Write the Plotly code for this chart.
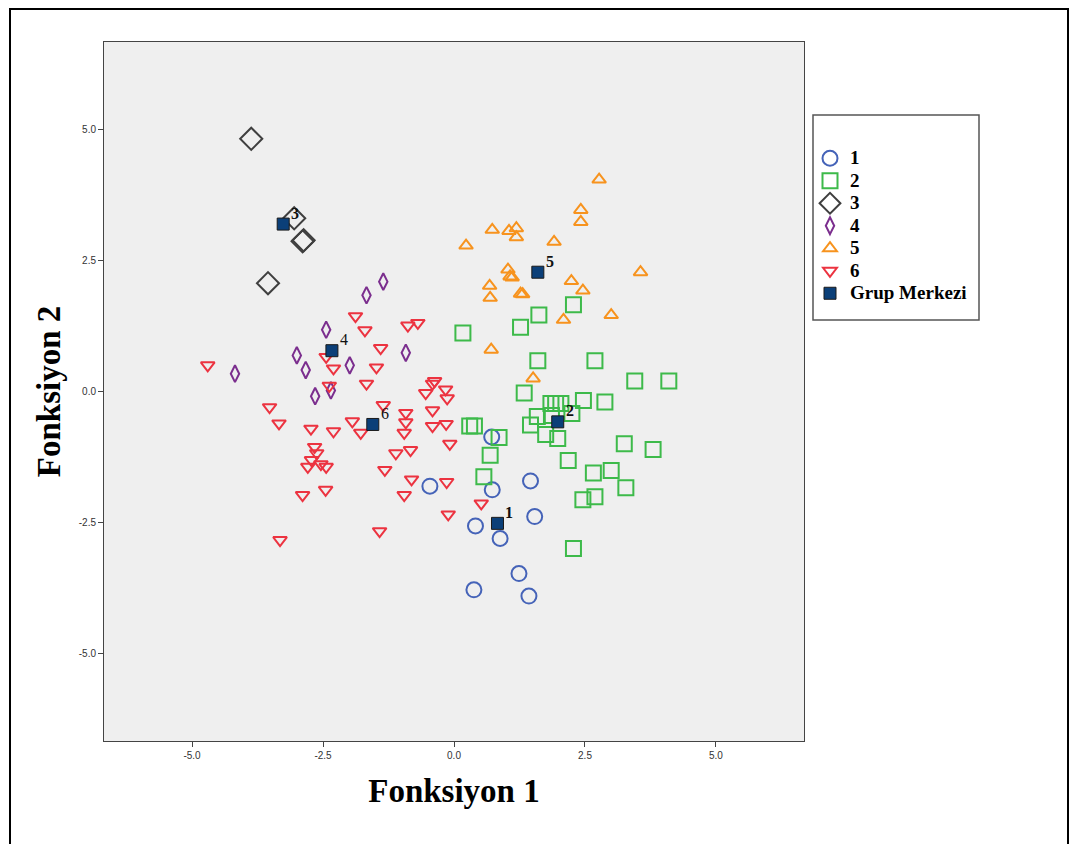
import plotly.graph_objects as go

# ---- data ----
g1_x = [0.72, -0.46, 0.73, 1.46, 1.54, 0.41, 0.88, 1.24, 0.38, 1.43]
g1_y = [-0.87, -1.81, -1.88, -1.71, -2.39, -2.57, -2.81, -3.48, -3.79, -3.91]

g2_x = [2.28, 1.62, 1.27, 0.17, 1.60, 2.69, 3.45, 4.10, 1.34, 1.85, 1.94, 2.04, 2.47, 2.88,
        2.25, 1.59, 1.86, 1.46, 1.75, 1.98, 0.30, 0.39, 0.86, 0.69, 0.57, 2.18, 2.66, 3.00,
        3.25, 3.80, 3.28, 2.46, 2.69, 2.28]
g2_y = [1.66, 1.46, 1.23, 1.12, 0.59, 0.59, 0.20, 0.20, -0.03, -0.23, -0.23, -0.23, -0.17, -0.20,
        -0.42, -0.48, -0.46, -0.64, -0.82, -0.90, -0.66, -0.66, -0.88, -1.22, -1.63, -1.32, -1.56, -1.51,
        -1.00, -1.11, -1.84, -2.07, -2.01, -3.00]

g3_x = [-3.87, -3.05, -2.89, -2.87, -3.55]
g3_y = [4.83, 3.31, 2.87, 2.89, 2.07]

g4_x = [-1.35, -1.67, -2.44, -3.00, -2.83, -1.99, -0.92, -4.18, -2.65, -2.35]
g4_y = [2.10, 1.84, 1.18, 0.69, 0.41, 0.50, 0.74, 0.34, -0.09, 0.02]

g5_x = [2.77, 2.42, 2.42, 0.73, 1.05, 1.19, 1.19, 1.91, 0.23, 1.03, 1.07, 1.11, 2.24, 0.68,
        0.69, 1.27, 1.31, 2.46, 3.56, 3.00, 2.09, 0.71, 1.51]
g5_y = [4.05, 3.47, 3.24, 3.09, 3.07, 3.12, 2.95, 2.86, 2.79, 2.33, 2.20, 2.18, 2.11, 2.02,
        1.79, 1.87, 1.86, 1.93, 2.28, 1.46, 1.37, 0.80, 0.25]

g6_x = [-4.70, -1.88, -1.70, -1.40, -0.88, -0.69, -2.44, -2.30, -1.48, -2.38, -1.67, -0.41,
        -0.37, -0.54, -0.16, -0.13, -1.35, -3.52, -3.34, -1.94, -1.78, -2.73, -2.30, -0.92,
        -0.92, -0.95, -0.41, -0.41, -0.15, -0.08, -0.83, -1.11, -1.32, -0.81, -0.95, -0.14,
        -0.11, -1.42, -3.32, -2.89, -2.45, -2.66, -2.62, -2.72, -2.79, -2.54, -2.44, 0.52]
g6_y = [0.50, 1.44, 1.17, 0.83, 1.26, 1.31, 0.66, 0.44, 0.46, 0.11, 0.15, 0.15,
        0.20, -0.03, 0.04, -0.13, -0.26, -0.30, -0.61, -0.57, -0.79, -0.71, -0.76, -0.41,
        -0.59, -0.79, -0.36, -0.66, -0.62, -1.00, -1.12, -1.18, -1.50, -1.68, -1.98, -1.73,
        -2.35, -2.67, -2.84, -1.98, -1.88, -1.06, -1.18, -1.31, -1.44, -1.39, -1.44, -2.14]

centroid_labels = ["1", "2", "3", "4", "5", "6"]
centroid_x = [0.83, 1.98, -3.26, -2.33, 1.60, -1.55]
centroid_y = [-2.52, -0.58, 3.20, 0.78, 2.28, -0.63]

tick_vals = [-5.0, -2.5, 0.0, 2.5, 5.0]
tick_text = ["-5.0", "-2.5", "0.0", "2.5", "5.0"]

# ---- figure ----
# page body has an 8px margin, so the figure is drawn offset by 8px
OFF = 8
W, H = 1077 - 2 * OFF, 852 - 2 * OFF
L, R, T, B = 104 - OFF, 804 - OFF, 42 - OFF, 741 - OFF

fig = go.Figure()

def leg_name(s):
    return '<span style="font-size:19px"><b>%s</b></span>' % s

groups = [
    ("1", g1_x, g1_y, "circle-open", 15, "#4563b8"),
    ("2", g2_x, g2_y, "square-open", 15, "#3dba4a"),
    ("3", g3_x, g3_y, "diamond-open", 17, "#3f3f3f"),
    ("4", g4_x, g4_y, "diamond-tall-open", 12, "#7b2e8e"),
    ("5", g5_x, g5_y, "triangle-up-open", 12, "#f7931e"),
    ("6", g6_x, g6_y, "triangle-down-open", 12, "#ec3340"),
]
for name, xs, ys, sym, size, col in groups:
    fig.add_trace(go.Scatter(
        x=xs, y=ys, mode="markers", name=leg_name(name),
        marker=dict(symbol=sym, size=size, color=col, line=dict(width=2, color=col)),
    ))

fig.add_trace(go.Scatter(
    x=centroid_x, y=centroid_y, mode="markers", name=leg_name("Grup Merkezi"),
    marker=dict(symbol="square", size=12, color="#0b3f78", line=dict(width=1, color="#1a1a1a")),
))

for lab, cx, cy in zip(centroid_labels, centroid_x, centroid_y):
    bold = lab not in ("4", "6")
    fig.add_annotation(
        x=cx, y=cy, xref="x", yref="y", showarrow=False,
        text=("<b>%s</b>" % lab) if bold else lab,
        xshift=12, yshift=11,
        font=dict(family="Liberation Serif", size=16, color="#111111"),
    )

axis_common = dict(
    range=[-6.68, 6.68], tickvals=tick_vals, ticktext=tick_text,
    showgrid=False, zeroline=False, ticks="outside", ticklen=5, tickcolor="#444",
    showline=True, linecolor="#444", linewidth=1, mirror=True,
    tickfont=dict(family="Liberation Sans", size=10, color="#333"),
)

fig.update_xaxes(**axis_common,
                 title=dict(text="<b>Fonksiyon 1</b>", standoff=18,
                            font=dict(family="Liberation Serif", size=33, color="#000")))
fig.update_yaxes(**axis_common,
                 title=dict(text="<b>Fonksiyon 2</b>", standoff=8,
                            font=dict(family="Liberation Serif", size=33, color="#000")))

def px_x(p):
    return (p - OFF - L) / (R - L)

def px_y(p):
    return (B - (p - OFF)) / (B - T)

# legend box and outer frame
fig.add_shape(type="rect", xref="paper", yref="paper",
              x0=px_x(813), x1=px_x(979), y0=px_y(320), y1=px_y(115),
              line=dict(color="#555", width=1.5), fillcolor="white", layer="below")
fig.add_shape(type="rect", xref="paper", yref="paper",
              x0=px_x(10), x1=px_x(1068), y0=px_y(880), y1=px_y(9),
              line=dict(color="#000", width=2), fillcolor="rgba(0,0,0,0)", layer="below")

fig.update_layout(
    width=W, height=H,
    margin=dict(l=L, r=W - R, t=T, b=H - B),
    plot_bgcolor="#efefef", paper_bgcolor="white",
    legend=dict(x=px_x(810), y=px_y(142), xanchor="left", yanchor="top",
                bgcolor="rgba(0,0,0,0)", borderwidth=0,
                font=dict(family="Liberation Serif", size=15, color="#000"),
                itemsizing="trace"),
    font=dict(family="Liberation Serif"),
)

fig.write_html("out.html")
